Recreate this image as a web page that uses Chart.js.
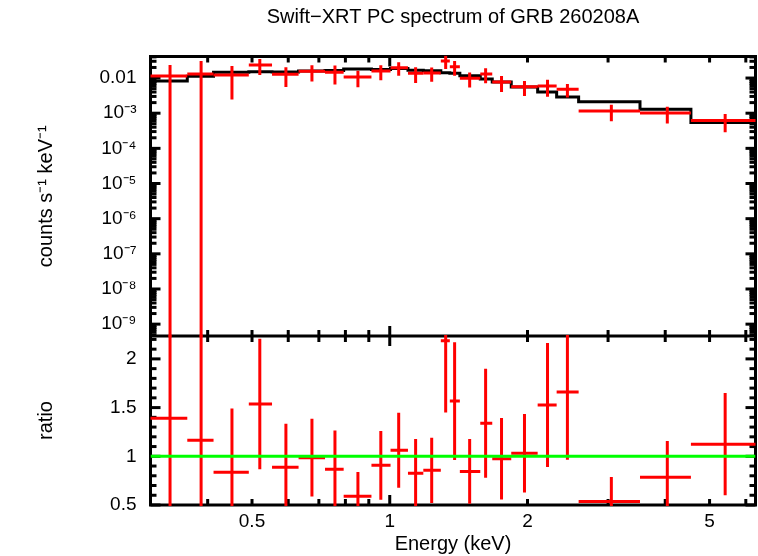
<!DOCTYPE html>
<html>
<head>
<meta charset="utf-8">
<script src="https://cdn.jsdelivr.net/npm/chart.js@4"></script>
<style>
  html, body { margin: 0; padding: 0; background: #fff; }
  #wrap { width: 758px; height: 556px; }
</style>
</head>
<body>
<div id="wrap"><canvas id="spec" width="758" height="556"></canvas></div>
<script>
// spectral bins (keV): edges, and the energy where each cross sits
const binEdges = [0.3, 0.361, 0.412, 0.492, 0.553, 0.632, 0.722, 0.793, 0.912, 1.004, 1.096, 1.184,
                  1.293, 1.353, 1.423, 1.577, 1.675, 1.843, 2.105, 2.316, 2.587, 3.523, 4.552, 6.3];
const energy = [0.331, 0.387, 0.452, 0.520, 0.593, 0.676, 0.759, 0.852, 0.956, 1.046, 1.139, 1.235,
                1.325, 1.386, 1.495, 1.620, 1.755, 1.970, 2.212, 2.445, 3.050, 4.042, 5.408];

// counts s^-1 keV^-1 with symmetric errors
const counts = [0.01147, 0.01308, 0.01225, 0.02358, 0.01282, 0.0156, 0.01462, 0.01075, 0.01592, 0.01975, 0.01369, 0.01397,
                0.03063, 0.02109, 0.00987, 0.01308, 0.00774, 0.0057, 0.00596, 0.0048, 0.00116, 0.00102, 0.000615];
const countsErr = [0.0121, 0.0176, 0.0098, 0.0113, 0.0073, 0.0076, 0.0081, 0.0053, 0.0072, 0.0082, 0.0065, 0.0061,
                   0.0125, 0.0095, 0.0045, 0.0060, 0.0037, 0.0026, 0.0030, 0.0020, 0.00057, 0.00051, 0.00033];

// folded model, one value per bin
const model = [0.00825, 0.01124, 0.01465, 0.0152, 0.0149, 0.0159, 0.0165, 0.018, 0.0176, 0.0186, 0.0166, 0.0160,
               0.0141, 0.0136, 0.0116, 0.0094, 0.0077, 0.00555, 0.0040, 0.0029, 0.00210, 0.00129, 0.00054];

// data / model
const ratio = [1.39, 1.165, 0.835, 1.536, 0.887, 0.986, 0.866, 0.59, 0.907, 1.062, 0.825, 0.856,
               2.186, 1.567, 0.845, 1.34, 0.975, 1.031, 1.526, 1.66, 0.536, 0.784, 1.124];
const ratioErr = [1.47, 1.57, 0.655, 0.67, 0.446, 0.40, 0.40, 0.25, 0.353, 0.386, 0.353, 0.335,
                  0.736, 0.605, 0.333, 0.56, 0.418, 0.403, 0.637, 0.695, 0.251, 0.374, 0.525];

const energyTicks = [0.5, 1, 2, 5];
const countTicks = [1e-9, 1e-8, 1e-7, 1e-6, 1e-5, 1e-4, 1e-3, 1e-2];
const countTickLabels = ['10\u207B\u2079', '10\u207B\u2078', '10\u207B\u2077', '10\u207B\u2076',
                         '10\u207B\u2075', '10\u207B\u2074', '10\u207B\u00B3', '0.01'];
const ratioTicks = [0.5, 1, 1.5, 2];

const FONT = '"Liberation Sans", Arial, Helvetica, sans-serif';
Chart.defaults.font.family = FONT;
Chart.defaults.font.size = 19;
Chart.defaults.color = '#000';

const modelSteps = model.map((m, i) => ({x: binEdges[i], y: m}));
modelSteps.push({x: binEdges[binEdges.length - 1], y: model[model.length - 1]});
const unityLine = [{x: binEdges[0], y: 1}, {x: binEdges[binEdges.length - 1], y: 1}];

function seg(ctx, x0, y0, x1, y1) {
  ctx.beginPath();
  ctx.moveTo(x0, y0);
  ctx.lineTo(x1, y1);
  ctx.stroke();
}

function crosses(chart, ys, vals, errs) {
  const {ctx, chartArea: a} = chart;
  const xs = chart.scales.x;
  ctx.save();
  ctx.beginPath();
  ctx.rect(a.left - 2, ys.top - 1, a.right - a.left + 4, ys.bottom - ys.top + 2);
  ctx.clip();
  ctx.strokeStyle = '#ff0000';
  ctx.lineWidth = 3;
  for (let i = 0; i < vals.length; i++) {
    const px = xs.getPixelForValue(energy[i]);
    const py = ys.getPixelForValue(vals[i]);
    const lo = vals[i] - errs[i];
    const pyLo = lo > 0 ? ys.getPixelForValue(lo) : ys.bottom + 5;
    const pyHi = ys.getPixelForValue(vals[i] + errs[i]);
    seg(ctx, xs.getPixelForValue(binEdges[i]), py, xs.getPixelForValue(binEdges[i + 1]), py);
    seg(ctx, px, Math.max(pyHi, ys.top - 5), px, Math.min(pyLo, ys.bottom + 5));
  }
  ctx.restore();
}

const framePlugin = {
  id: 'frame',
  beforeDatasetsDraw(chart) {
    const {ctx, chartArea: a, scales: {x, y, y2}} = chart;
    ctx.save();
    ctx.strokeStyle = '#000';
    ctx.lineWidth = 3;
    ctx.strokeRect(a.left, a.top, a.right - a.left, a.bottom - a.top);
    const mid = y.bottom;
    seg(ctx, a.left, mid, a.right, mid);

    // energy ticks: top edge, panel divider, bottom edge
    for (let d = -1; d <= 0; d++) {
      for (let m = 1; m <= 9; m++) {
        const v = m * Math.pow(10, d);
        if (v <= x.min * 1.001 || v >= x.max * 0.999) continue;
        const px = x.getPixelForValue(v);
        const len = m === 1 ? 10 : 6;
        seg(ctx, px, a.top, px, a.top + len);
        seg(ctx, px, mid - len, px, mid + len);
        seg(ctx, px, a.bottom, px, a.bottom - len);
      }
    }
    // counts ticks, left and right
    for (let d = -10; d <= -1; d++) {
      for (let m = 1; m <= 9; m++) {
        const v = m * Math.pow(10, d);
        if (v <= y.min || v >= y.max) continue;
        const py = y.getPixelForValue(v);
        const len = m === 1 ? 10 : 6;
        seg(ctx, a.left, py, a.left + len, py);
        seg(ctx, a.right, py, a.right - len, py);
      }
    }
    // ratio ticks every 0.1
    for (let k = 5; k <= 22; k++) {
      const v = k / 10;
      const py = y2.getPixelForValue(v);
      const len = k % 5 === 0 ? 10 : 6;
      seg(ctx, a.left, py, a.left + len, py);
      seg(ctx, a.right, py, a.right - len, py);
    }
    ctx.restore();
  },
  afterDatasetDraw(chart, args) {
    // crosses go over the model line and under the unity line
    if (args.index !== 1) return;
    crosses(chart, chart.scales.y, counts, countsErr);
    crosses(chart, chart.scales.y2, ratio, ratioErr);
  },
  afterDraw(chart) {
    const {ctx, chartArea: a} = chart;
    ctx.save();
    ctx.fillStyle = '#000';
    ctx.font = '20px ' + FONT;
    ctx.textAlign = 'center';
    ctx.textBaseline = 'alphabetic';
    ctx.fillText('Swift\u2212XRT PC spectrum of GRB 260208A', (a.left + a.right) / 2, 23);
    ctx.restore();
  }
};

new Chart(document.getElementById('spec'), {
  type: 'scatter',
  data: {
    datasets: [
      {
        label: 'ratio = 1',
        data: unityLine,
        yAxisID: 'y2',
        showLine: true,
        borderColor: '#00ff00',
        borderWidth: 3,
        pointRadius: 0
      },
      {
        label: 'model',
        data: modelSteps,
        yAxisID: 'y',
        showLine: true,
        stepped: true,
        borderColor: '#000000',
        borderWidth: 3,
        pointRadius: 0
      }
    ]
  },
  options: {
    responsive: false,
    animation: false,
    layout: {padding: {top: 56.5, right: 2.5, left: 0, bottom: 0}},
    plugins: {legend: {display: false}, tooltip: {enabled: false}},
    scales: {
      x: {
        type: 'logarithmic',
        position: 'bottom',
        min: 0.3,
        max: 6.3,
        grid: {display: false},
        border: {display: false},
        afterBuildTicks: s => { s.ticks = energyTicks.map(v => ({value: v})); },
        afterFit: s => { s.height = 51; },
        ticks: {callback: v => String(v), padding: -3, maxRotation: 0, autoSkip: false},
        title: {display: true, text: 'Energy (keV)', font: {size: 20}, padding: {top: 0, bottom: 0}}
      },
      y: {
        type: 'logarithmic',
        position: 'left',
        stack: 'panels',
        stackWeight: 279.5,
        weight: 1,
        min: 4.6e-10,
        max: 0.041,
        grid: {display: false},
        border: {display: false},
        afterBuildTicks: s => { s.ticks = countTicks.map(v => ({value: v})); },
        afterFit: s => { s.width = 150.5; },
        ticks: {callback: (v, i) => countTickLabels[i], padding: 6, autoSkip: false},
        title: {display: true, text: 'counts s\u207B\u00B9 keV\u207B\u00B9', font: {size: 20}, padding: {top: 34, bottom: 0}}
      },
      y2: {
        type: 'linear',
        position: 'left',
        stack: 'panels',
        stackWeight: 169,
        weight: 0,
        min: 0.5,
        max: 2.235,
        grid: {display: false},
        border: {display: false},
        afterBuildTicks: s => { s.ticks = ratioTicks.map(v => ({value: v})); },
        afterFit: s => { s.width = 150.5; },
        ticks: {callback: v => String(v), padding: 6, autoSkip: false},
        title: {display: true, text: 'ratio', font: {size: 20}, padding: {top: 34, bottom: 0}}
      }
    }
  },
  plugins: [framePlugin]
});
</script>
</body>
</html>
